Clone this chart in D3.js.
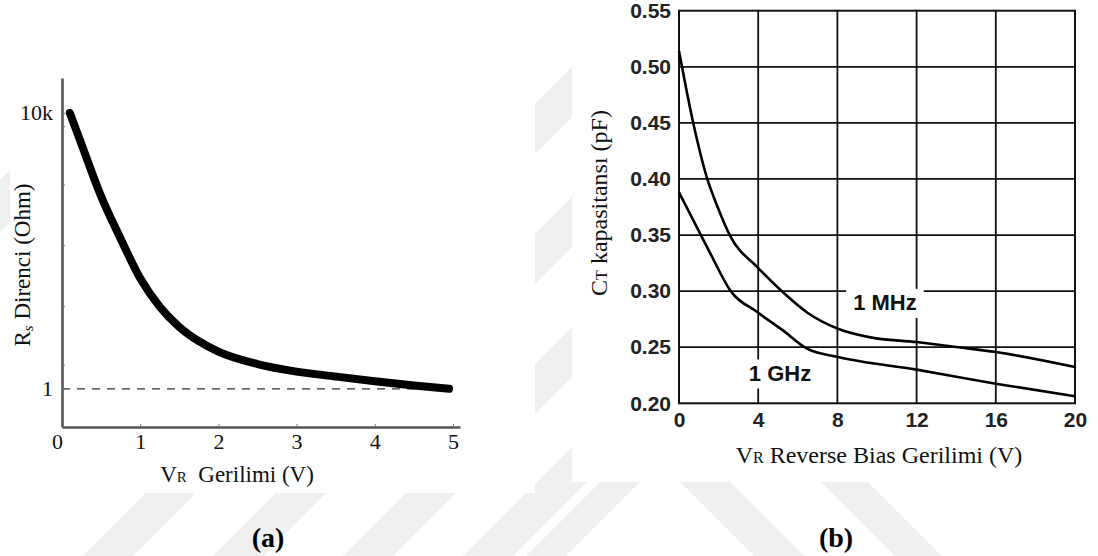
<!DOCTYPE html>
<html><head><meta charset="utf-8">
<script src="https://cdn.jsdelivr.net/npm/d3@7"></script>
<style>body{margin:0;background:#fff}svg{display:block}</style>
</head><body><svg id="c" width="1098" height="556"></svg>
<script>
// ---------- Panel (a): Rs vs VR ----------
const rsVoltage = [0.1, 0.25, 0.5, 0.75, 1.0, 1.25, 1.5, 1.75, 2.0, 2.5, 3.0, 3.5, 4.0, 4.5, 4.95];
const rsOhm     = [10000, 3500, 620, 150, 40, 15.5, 7.9, 4.9, 3.47, 2.29, 1.78, 1.51, 1.29, 1.12, 1.0];
const aXTicks = [0, 1, 2, 3, 4, 5];
const aYTicks = [1, 10000];
const aYTickLabels = ["1", "10k"];
const aYMinorTicks = [2.2, 15.5, 120, 900, 6300];
const aRefLevel = 1;

// ---------- Panel (b): CT vs VR ----------
const ctV1MHz = [0, 0.73, 1.43, 1.95, 2.59, 3.98, 5.25, 6.47, 8.03, 9.6, 12.0, 14.1, 16.0, 20];
const ct1MHz  = [0.514, 0.449, 0.400, 0.375, 0.349, 0.321, 0.299, 0.281, 0.2665, 0.259, 0.2546, 0.250, 0.2457, 0.2323];
const ctV1GHz = [0, 0.9, 1.6, 2.59, 3.98, 5.25, 6.47, 8.03, 12.0, 16.0, 20];
const ct1GHz  = [0.388, 0.357, 0.333, 0.3006, 0.281, 0.265, 0.2487, 0.2412, 0.230, 0.2175, 0.2062];
const bXTicks = [0, 4, 8, 12, 16, 20];
const bYTicks = [0.20, 0.25, 0.30, 0.35, 0.40, 0.45, 0.50, 0.55];
const bSeriesNames = ["1 MHz", "1 GHz"];
const bLabelV = [10.4, 5.1];
const bLabelC = [0.290, 0.227];

const svg = d3.select("#c");
const SERIF = "'Liberation Serif','Times New Roman',serif";
const SANS = "'Liberation Sans',Arial,sans-serif";

// ---------- background watermark (decorative) ----------
const wm = svg.append("g").attr("fill", "#f0f0f0");
[[180,232],[639,689],[769,819],[899,949],[1019,1069],[1082,1122]].forEach(([c0,c1]) => {
  wm.append("polygon").attr("points", [[c0+10,-10],[c1+10,-10],[c1-566,566],[c0-566,566]].map(p=>p.join(",")).join(" "));
});
[[198,248],[339,386]].forEach(([k0,k1]) => {
  wm.append("polygon").attr("points", [[470+k0,470],[470+k1,470],[566+k1,566],[566+k0,566]].map(p=>p.join(",")).join(" "));
});
svg.append("rect").attr("x", 10).attr("y", 0).attr("width", 525).attr("height", 493).attr("fill", "#fff");
svg.append("rect").attr("x", 572).attr("y", 0).attr("width", 526).attr("height", 482).attr("fill", "#fff");

// ---------- Panel (a) ----------
const xA = d3.scaleLinear().domain([0, 5.09]).range([62, 460]);
const yA = d3.scaleLog().domain([0.28, 32000]).range([427, 78]);
const gA = svg.append("g");

gA.append("line")
  .attr("x1", xA(0)).attr("x2", xA(5)).attr("y1", yA(aRefLevel)).attr("y2", yA(aRefLevel))
  .attr("stroke", "#333").attr("stroke-width", 1.4).attr("stroke-dasharray", "8,7");

const axA_x = gA.append("g").attr("transform", `translate(0,${yA.range()[0]})`)
  .call(d3.axisBottom(xA).tickValues(aXTicks).tickSize(-3).tickSizeOuter(0).tickPadding(6.5).tickFormat(d3.format("d")));
const axA_y = gA.append("g").attr("transform", `translate(${xA(0)},0)`)
  .call(d3.axisLeft(yA).tickValues(aYTicks).tickSize(-3).tickSizeOuter(0).tickPadding(9)
        .tickFormat(d => aYTickLabels[aYTicks.indexOf(d)]));
axA_y.append("g").selectAll("line").data(aYMinorTicks).join("line")
  .attr("x1", 0).attr("x2", 3).attr("y1", d => yA(d)).attr("y2", d => yA(d))
  .attr("stroke", "#777").attr("stroke-width", 1);
[axA_x, axA_y].forEach(g => {
  g.select(".domain").attr("stroke", "#555").attr("stroke-width", 2.6);
  g.selectAll(".tick line").attr("stroke", "#777").attr("stroke-width", 1);
  g.selectAll("text").attr("font-family", SERIF).attr("font-size", 22).attr("fill", "#111");
});
axA_x.selectAll(".tick text").attr("dx", d => d === 0 ? -5 : 0);

gA.append("path")
  .datum(rsVoltage.map((v,i) => [v, rsOhm[i]]))
  .attr("d", d3.line().x(d => xA(d[0])).y(d => yA(d[1])).curve(d3.curveMonotoneX))
  .attr("fill", "none").attr("stroke", "#000").attr("stroke-width", 8)
  .attr("stroke-linecap", "round").attr("stroke-linejoin", "round");

const tA = gA.append("text").attr("font-family", SERIF).attr("font-size", 23).attr("fill", "#111")
  .attr("text-anchor", "middle").attr("x", 237).attr("y", 482).attr("xml:space", "preserve");
tA.append("tspan").text("V");
tA.append("tspan").attr("font-size", 15).text("R");
tA.append("tspan").text("  Gerilimi (V)");

const tAy = gA.append("text").attr("font-family", SERIF).attr("font-size", 23).attr("fill", "#111")
  .attr("text-anchor", "middle").attr("transform", "translate(30,265) rotate(-90)");
tAy.append("tspan").text("R");
tAy.append("tspan").attr("font-size", 15).attr("font-style", "italic").attr("dy", 3).text("s");
tAy.append("tspan").attr("dy", -3).text(" Direnci (Ohm)");

// ---------- Panel (b) ----------
const xB = d3.scaleLinear().domain([0, 20]).range([679, 1075]);
const yB = d3.scaleLinear().domain([0.20, 0.55]).range([403.3, 10.7]);
const gB = svg.append("g");

const grid = gB.append("g").attr("stroke", "#111").attr("stroke-width", 1.8);
grid.selectAll(".v").data(bXTicks.slice(1, -1)).join("line")
  .attr("x1", d => xB(d)).attr("x2", d => xB(d)).attr("y1", yB(0.20)).attr("y2", yB(0.55));
grid.selectAll(".h").data(bYTicks.slice(1, -1)).join("line")
  .attr("x1", xB(0)).attr("x2", xB(20)).attr("y1", d => yB(d)).attr("y2", d => yB(d));

bSeriesNames.forEach((name, i) => {
  const lg = gB.append("g");
  const t = lg.append("text").attr("font-family", SANS).attr("font-weight", "bold").attr("font-size", 22)
    .attr("fill", "#111").attr("text-anchor", "middle").attr("dominant-baseline", "central")
    .attr("x", xB(bLabelV[i])).attr("y", yB(bLabelC[i])).text(name);
  const bb = t.node().getBBox();
  lg.insert("rect", "text").attr("x", bb.x - 7).attr("y", bb.y - 1).attr("width", bb.width + 14).attr("height", bb.height + 4)
    .attr("fill", "#fff");
});

gB.append("rect").attr("x", xB(0)).attr("y", yB(0.55)).attr("width", xB(20) - xB(0)).attr("height", yB(0.20) - yB(0.55))
  .attr("fill", "none").attr("stroke", "#111").attr("stroke-width", 2);

const lineB = d3.line().x(d => xB(d[0])).y(d => yB(d[1])).curve(d3.curveMonotoneX);
gB.append("path").datum(ctV1MHz.map((v,i) => [v, ct1MHz[i]])).attr("d", lineB)
  .attr("fill", "none").attr("stroke", "#000").attr("stroke-width", 2.6);
gB.append("path").datum(ctV1GHz.map((v,i) => [v, ct1GHz[i]])).attr("d", lineB)
  .attr("fill", "none").attr("stroke", "#000").attr("stroke-width", 2.6);

const axB_x = gB.append("g").attr("transform", `translate(0,${yB(0.20)})`)
  .call(d3.axisBottom(xB).tickValues(bXTicks).tickSize(0).tickPadding(9).tickFormat(d3.format("d")));
const axB_y = gB.append("g").attr("transform", `translate(${xB(0)},0)`)
  .call(d3.axisLeft(yB).tickValues(bYTicks).tickSize(0).tickPadding(8).tickFormat(d3.format(".2f")));
[axB_x, axB_y].forEach(g => {
  g.select(".domain").remove();
  g.selectAll("text").attr("font-family", SANS).attr("font-weight", "bold").attr("font-size", 21).attr("fill", "#222");
});

const tB = gB.append("text").attr("font-family", SERIF).attr("font-size", 24).attr("fill", "#111")
  .attr("text-anchor", "middle").attr("x", 879).attr("y", 463);
tB.append("tspan").text("V");
tB.append("tspan").attr("font-size", 16).text("R");
tB.append("tspan").text(" Reverse Bias Gerilimi (V)");

const tBy = gB.append("text").attr("font-family", SERIF).attr("font-size", 24).attr("fill", "#111")
  .attr("text-anchor", "middle").attr("transform", "translate(607,203) rotate(-90)");
tBy.append("tspan").text("C");
tBy.append("tspan").attr("font-size", 16).text("T");
tBy.append("tspan").text(" kapasitansı (pF)");

svg.append("text").attr("font-family", SERIF).attr("font-weight", "bold").attr("font-size", 28).attr("fill", "#000")
  .attr("text-anchor", "middle").attr("x", 268).attr("y", 547).text("(a)");
svg.append("text").attr("font-family", SERIF).attr("font-weight", "bold").attr("font-size", 28).attr("fill", "#000")
  .attr("text-anchor", "middle").attr("x", 836).attr("y", 547).text("(b)");
</script></body></html>
